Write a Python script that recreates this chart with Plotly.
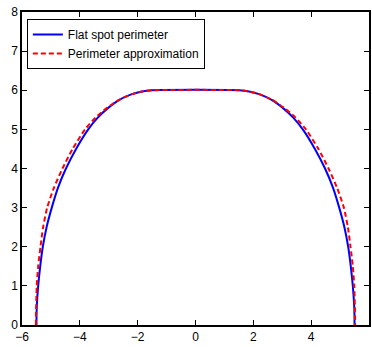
import plotly.graph_objects as go

# Half-profile values (right half; left half mirrored)
flat_y = [0, 0.25, 0.5, 1, 1.5, 2, 2.5, 3, 3.5, 4, 4.5, 5, 5.3, 5.55, 5.75, 5.9, 5.97, 6]
flat_x = [5.5, 5.497, 5.487, 5.44, 5.37, 5.28, 5.15, 4.97, 4.76, 4.48, 4.13, 3.71, 3.38, 3.02, 2.65, 2.2, 1.85, 1.5]

approx_y = [0, 0.25, 0.5, 1, 1.5, 2, 2.5, 3, 3.5, 4, 4.5, 5, 5.3, 5.55, 5.75, 5.9, 5.97, 6]
approx_x = [5.52, 5.518, 5.51, 5.49, 5.44, 5.36, 5.27, 5.13, 4.9, 4.6, 4.25, 3.82, 3.46, 3.06, 2.66, 2.2, 1.85, 1.5]

x_ticks = [-6, -4, -2, 0, 2, 4, 6]
y_ticks = [0, 1, 2, 3, 4, 5, 6, 7, 8]


def full_profile(xs, ys):
    left_x = [-v for v in xs]
    right_x = list(reversed(xs))
    return left_x + right_x, ys + list(reversed(ys))


bx, by = full_profile(flat_x, flat_y)
rx, ry = full_profile(approx_x, approx_y)

FONT = "Liberation Sans, Arial, Helvetica"

fig = go.Figure()
fig.add_trace(go.Scatter(x=bx, y=by, mode="lines", name="Flat spot perimeter",
                         line=dict(color="rgb(0,0,255)", width=2, shape="spline", smoothing=0.6)))
fig.add_trace(go.Scatter(x=rx, y=ry, mode="lines", name="Perimeter approximation",
                         line=dict(color="rgb(255,0,0)", width=2, dash="5px,3px",
                                   shape="spline", smoothing=0.6)))

axis_common = dict(showgrid=False, zeroline=False, showline=True, linecolor="black",
                   linewidth=1.5, mirror="allticks", ticks="inside", ticklen=5,
                   tickcolor="black", tickfont=dict(family=FONT, size=12, color="black"))

fig.update_layout(
    width=372, height=347,
    margin=dict(l=22, r=1, t=12, b=22),
    paper_bgcolor="white", plot_bgcolor="white",
    showlegend=True,
    legend=dict(x=0.014, y=0.978, xanchor="left", yanchor="top",
                bgcolor="white", bordercolor="black", borderwidth=1,
                font=dict(family=FONT, size=12, color="black"),
                itemwidth=30, tracegroupgap=0),
    xaxis=dict(range=[-6, 6], tickmode="array", tickvals=x_ticks, **axis_common),
    yaxis=dict(range=[0, 8], tickmode="array", tickvals=y_ticks, **axis_common),
)

fig.write_html("out.html")
